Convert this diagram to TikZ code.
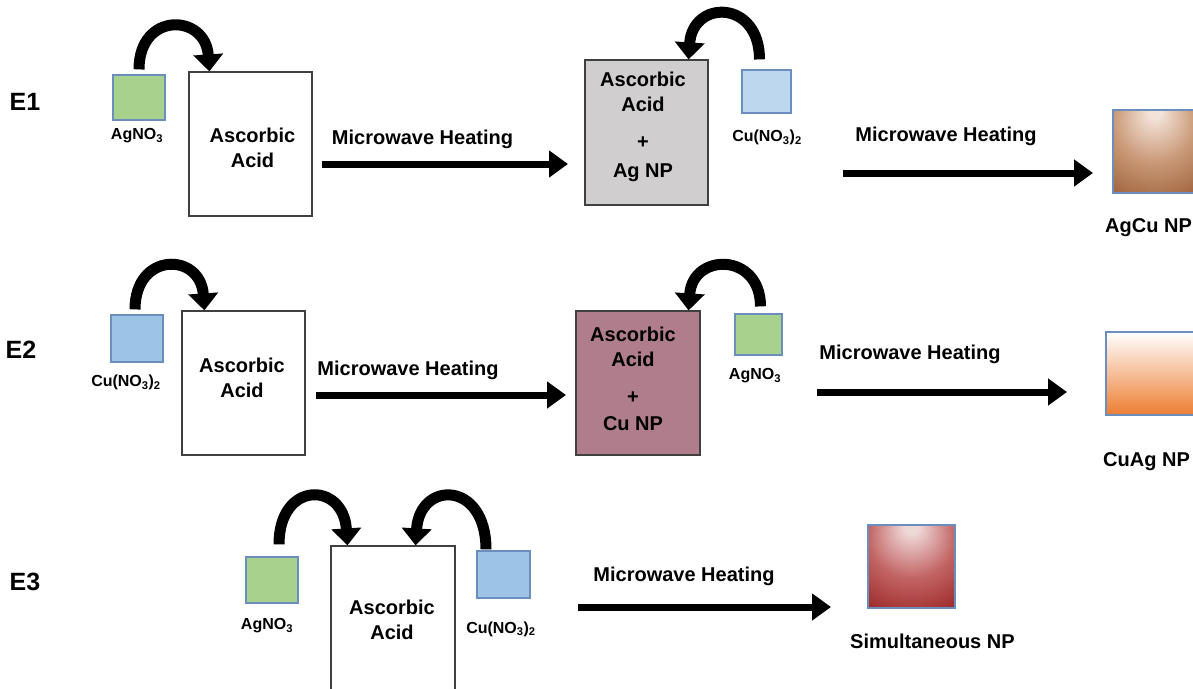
\documentclass[tikz,border=0pt]{standalone}
\usepackage{fontspec}
\setmainfont{Liberation Sans}
\usetikzlibrary{arrows.meta}
\definecolor{agG}{HTML}{A9D18E}
\definecolor{cuL}{HTML}{BDD7EE}
\definecolor{cuB}{HTML}{9DC3E6}
\definecolor{sqB}{HTML}{6A8FBF}
\definecolor{boxB}{HTML}{404040}
\definecolor{greyF}{HTML}{D0CECE}
\definecolor{mauveF}{HTML}{B07D8C}
\definecolor{brLight}{HTML}{F2E2D8}
\definecolor{brMid}{HTML}{C99876}
\definecolor{brDark}{HTML}{8C4A22}
\definecolor{orD}{HTML}{ED7D31}
\definecolor{rdLight}{HTML}{EFD8D8}
\definecolor{rdMid}{HTML}{C26464}
\definecolor{rdDark}{HTML}{8B0C0C}
\pgfdeclareradialshading[brLight,brMid,brDark]{brownrad}{\pgfpoint{0bp}{25bp}}{color(0bp)=(brLight); color(4bp)=(brLight); color(25bp)=(brMid); color(55bp)=(brDark); color(90bp)=(brDark)}
\pgfdeclareradialshading[rdLight,rdMid,rdDark]{redrad}{\pgfpoint{0bp}{25bp}}{color(0bp)=(rdLight); color(4bp)=(rdLight); color(25bp)=(rdMid); color(55bp)=(rdDark); color(90bp)=(rdDark)}
\begin{document}
\begin{tikzpicture}[x=1pt,y=-1pt,
  sq/.style={draw=sqB, line width=1.2pt, inner sep=0pt},
  abox/.style={draw=boxB, line width=1.2pt, inner sep=0pt},
  lbl/.style={font=\fontsize{16}{19}\selectfont\bfseries, inner sep=0pt, anchor=base},
  btxt/.style={font=\fontsize{20}{24.5}\selectfont\bfseries, inner sep=0pt, align=center, anchor=north},
  mwt/.style={font=\fontsize{20}{24}\selectfont\bfseries, inner sep=0pt, anchor=base},
  plbl/.style={font=\fontsize{20}{24}\selectfont\bfseries, inner sep=0pt, anchor=base west},
  elbl/.style={font=\fontsize{25}{30}\selectfont\bfseries, inner sep=0pt},
  flow/.style={-{Triangle[width=26pt,length=19pt]}, line width=7pt},
  carr/.style={-{Triangle[width=29pt,length=17pt]}, line width=11pt}
]
\clip (0,0) rectangle (1193,688);
\fill[white] (0,0) rectangle (1193,688);

% ---------------- E1 ----------------
\node[elbl] (e1) at (25,101.5) {E1};
\node[sq, fill=agG, minimum width=52pt, minimum height=45pt] (ag1) at (139,97.5) {};
\node[lbl] (ag1l) at (137,139.5) {AgNO\textsubscript{3}};
\node[abox, minimum width=123pt, minimum height=144pt] (b1) at (250.5,144) {};
\node[btxt] (b1t) at (252.5,128) {Ascorbic\\Acid};
\node[mwt] (m1) at (422.5,144.3) {Microwave Heating};
\coordinate (a1s) at (322,164);
\coordinate (a1e) at (568,164);
\draw[flow] (a1s) -- (a1e);
\node[abox, fill=greyF, minimum width=123pt, minimum height=145pt] (b2) at (646.5,132.5) {};
\node[btxt] (b2t) at (643,72) {Ascorbic\\Acid\\[12.5pt]+\\[4.5pt]Ag NP};
\node[sq, fill=cuL, minimum width=49pt, minimum height=43pt] (cu1) at (766.5,91.5) {};
\node[lbl] (cu1l) at (767,141.5) {Cu(NO\textsubscript{3})\textsubscript{2}};
\node[mwt] (m2) at (946,141) {Microwave Heating};
\coordinate (a2s) at (843,173);
\coordinate (a2e) at (1093,173);
\draw[flow] (a2s) -- (a2e);
\node[sq, shading=brownrad, minimum width=83pt, minimum height=83pt] (p1) at (1154.5,151.5) {};
\node[plbl] (p1l) at (1105,232) {AgCu NP};
\draw[carr] ([yshift=5pt]ag1.north) .. controls +(0,-58) and +(-4,-58) .. ([xshift=21pt]b1.north west);
\draw[carr] ([xshift=-7pt,yshift=10pt]cu1.north) .. controls +(0,-60) and +(4,-60) .. ([xshift=-20pt]b2.north east);

% ---------------- E2 ----------------
\node[elbl] (e2) at (21,350) {E2};
\node[sq, fill=cuB, minimum width=52pt, minimum height=47pt] (cu2) at (137,338.5) {};
\node[lbl] (cu2l) at (126,386.5) {Cu(NO\textsubscript{3})\textsubscript{2}};
\node[abox, minimum width=123pt, minimum height=144pt] (b3) at (243.5,383) {};
\node[btxt] (b3t) at (242,358) {Ascorbic\\Acid};
\node[mwt] (m3) at (408,375) {Microwave Heating};
\coordinate (a3s) at (316,395);
\coordinate (a3e) at (566,395);
\draw[flow] (a3s) -- (a3e);
\node[abox, fill=mauveF, minimum width=124pt, minimum height=144pt] (b4) at (638,383) {};
\node[btxt] (b4t) at (633,327) {Ascorbic\\Acid\\[13pt]+\\[2pt]Cu NP};
\node[sq, fill=agG, minimum width=47pt, minimum height=41pt] (ag2) at (758.5,334.5) {};
\node[lbl] (ag2l) at (755,379.5) {AgNO\textsubscript{3}};
\node[mwt] (m4) at (910,359) {Microwave Heating};
\coordinate (a4s) at (817,392);
\coordinate (a4e) at (1067,392);
\draw[flow] (a4s) -- (a4e);
\node[sq, top color=white, bottom color=orD, minimum width=90pt, minimum height=83pt] (p2) at (1151,373.5) {};
\node[plbl] (p2l) at (1103,466) {CuAg NP};
\draw[carr] ([xshift=-2pt,yshift=5pt]cu2.north) .. controls +(0,-58) and +(-4,-58) .. ([xshift=23pt]b3.north west);
\draw[carr] ([xshift=2pt,yshift=7pt]ag2.north) .. controls +(0,-54) and +(4,-58) .. ([xshift=-12pt]b4.north east);

% ---------------- E3 ----------------
\node[elbl] (e3) at (25,582) {E3};
\node[sq, fill=agG, minimum width=52pt, minimum height=46pt] (ag3) at (272,580) {};
\node[lbl] (ag3l) at (267,629.5) {AgNO\textsubscript{3}};
\node[abox, minimum width=124pt, minimum height=154pt] (b5) at (393,623) {};
\node[btxt] (b5t) at (392,600) {Ascorbic\\Acid};
\node[sq, fill=cuB, minimum width=53pt, minimum height=47pt] (cu3) at (503.5,574.5) {};
\node[lbl] (cu3l) at (501,633) {Cu(NO\textsubscript{3})\textsubscript{2}};
\node[mwt] (m5) at (684,581) {Microwave Heating};
\coordinate (a5s) at (578,607);
\coordinate (a5e) at (831,607);
\draw[flow] (a5s) -- (a5e);
\node[sq, shading=redrad, minimum width=87pt, minimum height=83pt] (p3) at (911.5,566.5) {};
\node[plbl] (p3l) at (850,648) {Simultaneous NP};
\draw[carr] ([xshift=7pt,yshift=12pt]ag3.north) .. controls +(0,-64) and +(-4,-64) .. ([xshift=17pt]b5.north west);
\draw[carr] ([xshift=-17.5pt,yshift=1pt]cu3.north) .. controls +(0,-69) and +(4,-65) .. ([xshift=-40pt]b5.north east);
\end{tikzpicture}
\end{document}
